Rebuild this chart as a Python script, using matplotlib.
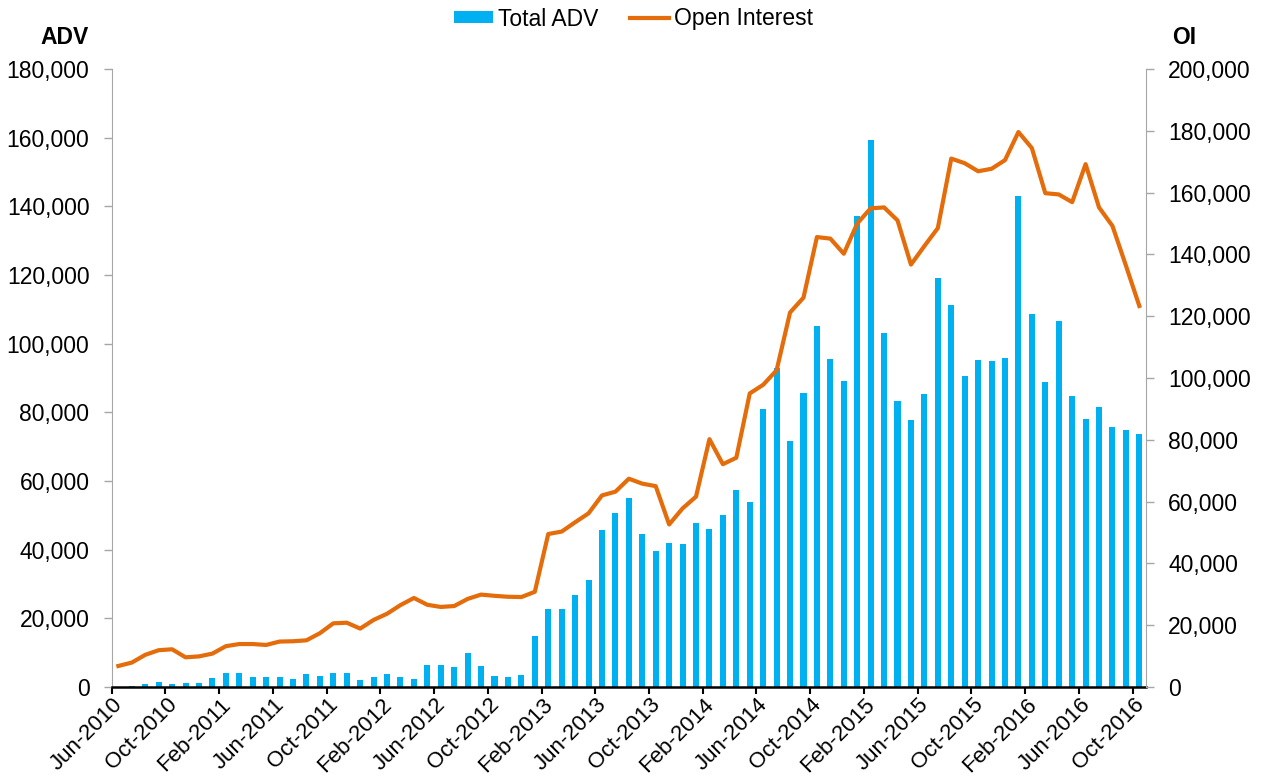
import matplotlib.pyplot as plt
import matplotlib.transforms as mtransforms
import numpy as np
import pandas as pd
from matplotlib.patches import Patch
from matplotlib.lines import Line2D
from matplotlib.ticker import FuncFormatter

plt.rcParams['font.family'] = ['Liberation Sans', 'DejaVu Sans']

# monthly categories Jun-2010 .. Oct-2016
months = pd.date_range('2010-06-01', '2016-10-01', freq='MS')
month_labels = [m.strftime('%b-%Y') for m in months]

total_adv = [
    100, 200, 800, 1400, 900, 1100, 1200, 2500, 4000, 4000,
    2800, 2800, 2800, 2200, 3700, 3200, 4200, 4200, 2100, 2800,
    3800, 2800, 2400, 6400, 6400, 5700, 9900, 6100, 3100, 2800,
    3500, 14800, 22800, 22800, 26700, 31200, 45700, 50600, 55000, 44500,
    39600, 41800, 41600, 47700, 46100, 50000, 57400, 53900, 81000, 92900,
    71500, 85500, 105100, 95500, 89100, 137200, 159200, 103200, 83300, 77800,
    85200, 119100, 111300, 90600, 95200, 94900, 95800, 143000, 108700, 88700,
    106700, 84700, 78000, 81500, 75800, 74900, 73800,
]

open_interest = [
    6800, 7900, 10400, 11900, 12200, 9600, 9900, 10800, 13200, 13900,
    13900, 13600, 14700, 14800, 15100, 17400, 20600, 20800, 18900, 21700,
    23700, 26500, 28800, 26600, 25900, 26200, 28500, 29900, 29500, 29200,
    29100, 30800, 49500, 50300, 53300, 56200, 62000, 63200, 67400, 65800,
    65000, 52600, 57800, 61600, 80200, 72100, 74200, 95000, 97800, 102500,
    121200, 126000, 145600, 145100, 140200, 150000, 154900, 155200, 151000, 136700,
    142700, 148500, 171000, 169500, 166900, 167700, 170500, 179600, 174400, 159800,
    159400, 156900, 169200, 155200, 149200, 136400, 123300,
]

bar_color = '#00B0F0'
line_color = '#E46C0A'
axis_gray = '#A6A6A6'
fs = 16.5

x = np.arange(len(months))

fig = plt.figure(figsize=(12.63, 7.82), dpi=100)
ax = fig.add_axes([0.0884, 0.1215, 0.8190, 0.7903])
ax2 = ax.twinx()

ax.bar(x, total_adv, width=0.45, color=bar_color, zorder=2)
ax2.plot(x, open_interest, color=line_color, lw=3.0, solid_joinstyle='round')

ax.set_xlim(-0.5, len(months) - 0.5)
ax.set_ylim(0, 180000)
ax2.set_ylim(0, 200000)
ax.set_yticks(np.arange(0, 180001, 20000))
ax2.set_yticks(np.arange(0, 200001, 20000))
fmt = FuncFormatter(lambda v, p: f'{v:,.0f}')
ax.yaxis.set_major_formatter(fmt)
ax2.yaxis.set_major_formatter(fmt)

# tick marks between categories, labels on every 4th month
step = 4
ax.set_xticks(x[::step] - 0.5)
ax.set_xticklabels([])
ax.set_xticks(x[::step], [month_labels[i] for i in x[::step]], minor=True)
ax.tick_params(axis='x', which='major', direction='out', length=5, width=1.5, color='black')
ax.tick_params(axis='x', which='minor', length=0, pad=5, labelsize=16)
shift = mtransforms.ScaledTranslation(-6 / 100, 0, fig.dpi_scale_trans)
for lbl in ax.get_xticklabels(minor=True):
    lbl.set_rotation(45)
    lbl.set_ha('right')
    lbl.set_rotation_mode('anchor')
    lbl.set_transform(lbl.get_transform() + shift)

ax.tick_params(axis='y', direction='out', length=6, width=1, color=axis_gray, labelsize=fs, pad=10)
ax2.tick_params(axis='y', direction='out', length=6, width=1, color=axis_gray, labelsize=fs, pad=10)

for a in (ax, ax2):
    a.spines['top'].set_visible(False)
ax.spines['right'].set_visible(False)
ax2.spines['left'].set_visible(False)
ax2.spines['bottom'].set_visible(False)
ax.spines['left'].set_color(axis_gray)
ax2.spines['right'].set_color(axis_gray)
ax.spines['bottom'].set_color('black')
ax.spines['bottom'].set_linewidth(1.8)
ax.spines['bottom'].set_zorder(3)

fig.text(89 / 1263, 1 - 38 / 782, 'ADV', ha='right', va='center', fontsize=fs, fontweight='bold')
fig.text(1172 / 1263, 1 - 38 / 782, 'OI', ha='left', va='center', fontsize=fs, fontweight='bold')

handles = [Patch(facecolor=bar_color, edgecolor='none'),
           Line2D([0], [0], color=line_color, lw=3)]
fig.legend(handles, ['Total ADV', 'Open Interest'], loc='center', bbox_to_anchor=(0.5016, 1 - 19 / 782),
           ncol=2, frameon=False, fontsize=fs, handlelength=1.7, handleheight=0.45,
           handletextpad=0.2, columnspacing=1.4)

fig.savefig('out.png', dpi=100)
